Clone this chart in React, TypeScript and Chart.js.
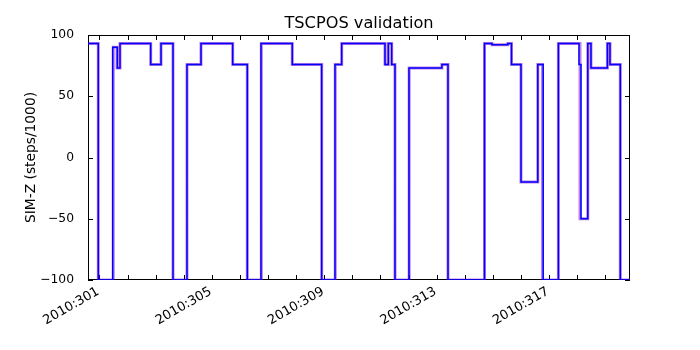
import React, { useEffect, useRef } from 'react';
import { Chart, registerables } from 'chart.js';

Chart.register(...registerables);

const X_MIN = 300.591;
const X_MAX = 319.879;

// Blue series (telemetry): transition times (day of year 2010) and values held after each time
const blueTimes = [
  300.591, 300.957, 301.470, 301.633, 301.730, 302.822, 303.189, 303.616, 304.114, 304.612,
  305.740, 306.260, 306.747, 307.861, 308.907, 309.381, 309.619, 311.160, 311.278, 311.399,
  311.516, 312.014, 313.185, 313.402, 314.701, 314.968, 315.530, 315.662, 316.000, 316.598,
  316.790, 317.331, 318.064, 318.135, 318.377, 318.491, 319.075, 319.167, 319.534, 319.879,
];
const blueValues = [
  93, -100, 90, 73, 93, 76, 93, -100, 76, 93,
  76, -100, 93, 76, -100, 76, 93, 76, 93, 76,
  -100, 73, 76, -100, 93, 92, 93, 76, -20, 76,
  -100, 93, 76, -50, 93, 73, 93, 76, -100, -100,
];

// Violet series (model)
const violetTimes = [
  300.591, 300.957, 301.490, 301.625, 301.730, 302.822, 303.189, 303.616, 304.114, 304.612,
  305.740, 306.260, 306.760, 307.861, 308.907, 309.390, 309.619, 311.160, 311.278, 311.399,
  311.516, 312.020, 313.185, 313.402, 314.701, 314.968, 315.530, 315.662, 316.000, 316.598,
  316.765, 317.331, 318.100, 318.377, 318.491, 319.075, 319.167, 319.534, 319.879,
];
const violetValues = [
  93, -100, 90, 73, 93, 76, 93, -100, 76, 93,
  76, -100, 93, 76, -100, 76, 93, 76, 93, 76,
  -100, 73, 76, -100, 93, 92, 93, 76, -20, 76,
  -100, 93, -50, 93, 73, 93, 76, -100, -100,
];

const xTickDays = [301, 305, 309, 313, 317];
const yTickValues = [-100, -50, 0, 50, 100];
const titleText = 'TSCPOS validation';
const yLabelText = 'SIM-Z (steps/1000)';
const yearPrefix = '2010:';

const FONT = '"DejaVu Sans", sans-serif';

const framePlugin = {
  id: 'framePlugin',
  beforeDatasetsDraw(chart: any) {
    const { ctx, chartArea: ca } = chart;
    const xs = chart.scales.x;
    const ys = chart.scales.y;
    ctx.save();
    ctx.strokeStyle = '#000';
    ctx.lineWidth = 1;
    ctx.strokeRect(ca.left + 0.5, ca.top + 0.5, ca.right - ca.left - 1, ca.bottom - ca.top - 1);
    ctx.beginPath();
    for (const v of yTickValues) {
      const y = Math.round(ys.getPixelForValue(v)) + 0.5;
      ctx.moveTo(ca.left, y);
      ctx.lineTo(ca.left + 5, y);
      ctx.moveTo(ca.right, y);
      ctx.lineTo(ca.right - 5, y);
    }
    for (let d = Math.ceil(X_MIN); d <= X_MAX; d++) {
      const x = Math.round(xs.getPixelForValue(d)) + 0.5;
      ctx.moveTo(x, ca.bottom);
      ctx.lineTo(x, ca.bottom - 5);
      ctx.moveTo(x, ca.top);
      ctx.lineTo(x, ca.top + 5);
    }
    ctx.stroke();
    ctx.restore();
  },
  afterDraw(chart: any) {
    const { ctx, chartArea: ca } = chart;
    const xs = chart.scales.x;
    ctx.save();
    ctx.fillStyle = '#000';
    // x tick labels (rotated 30 degrees, right end at tick)
    ctx.font = `13px ${FONT}`;
    ctx.textAlign = 'right';
    ctx.textBaseline = 'alphabetic';
    for (const d of xTickDays) {
      const x = xs.getPixelForValue(d);
      ctx.save();
      ctx.translate(x + 0.5, ca.bottom + 13.5);
      ctx.rotate(-Math.PI / 6);
      ctx.fillText(yearPrefix + String(d), 0, 0);
      ctx.restore();
    }
    // title
    ctx.font = `16.2px ${FONT}`;
    ctx.textAlign = 'center';
    ctx.textBaseline = 'alphabetic';
    ctx.fillText(titleText, (ca.left + ca.right) / 2, 28.3);
    // y label
    ctx.font = `13.8px ${FONT}`;
    ctx.translate(35, (ca.top + ca.bottom) / 2);
    ctx.rotate(-Math.PI / 2);
    ctx.textAlign = 'center';
    ctx.textBaseline = 'alphabetic';
    ctx.fillText(yLabelText, 0, 0);
    ctx.restore();
  },
};

function toPoints(times: number[], values: number[]) {
  return times.map((t, i) => ({ x: t, y: values[i] }));
}

export default function App() {
  const ref = useRef<HTMLCanvasElement | null>(null);
  useEffect(() => {
    if (!ref.current) return;
    const chart = new Chart(ref.current, {
      type: 'line',
      data: {
        datasets: [
          {
            label: 'telemetry',
            data: toPoints(blueTimes, blueValues),
            borderColor: '#0000ff',
            borderWidth: 1.5,
            stepped: 'before',
            pointRadius: 0,
            fill: false,
            clip: { left: 0, right: 0, top: 2, bottom: 0 },
          },
          {
            label: 'model',
            data: toPoints(violetTimes, violetValues),
            borderColor: 'rgba(128, 0, 200, 0.5)',
            borderWidth: 3,
            stepped: 'before',
            pointRadius: 0,
            fill: false,
            clip: { left: 0, right: 0, top: 2, bottom: 0 },
          },
        ],
      },
      options: {
        responsive: false,
        animation: false,
        devicePixelRatio: 1,
        layout: { padding: { top: 35, right: 70, left: 0, bottom: 0 } },
        plugins: {
          legend: { display: false },
          title: { display: false },
          tooltip: { enabled: false },
        },
        scales: {
          x: {
            type: 'linear',
            min: X_MIN,
            max: X_MAX,
            grid: { display: false },
            border: { display: false },
            afterBuildTicks: (scale: any) => {
              scale.ticks = xTickDays.map((v) => ({ value: v }));
            },
            afterFit: (scale: any) => {
              scale.height = 70;
            },
            ticks: { display: false },
          },
          y: {
            type: 'linear',
            min: -100,
            max: 100,
            grid: { display: false },
            border: { display: false },
            afterBuildTicks: (scale: any) => {
              scale.ticks = yTickValues.map((v) => ({ value: v }));
            },
            afterFit: (scale: any) => {
              scale.width = 88;
            },
            ticks: {
              padding: 6,
              color: '#000',
              font: { family: FONT, size: 12.3 },
              callback: (v: any) => String(v).replace('-', '\u2212'),
            },
          },
        },
      },
      plugins: [framePlugin],
    });
    return () => chart.destroy();
  }, []);
  return (
    <div style={{ position: 'fixed', left: 0, top: 0, width: 700, height: 350, background: '#fff' }}>
      <canvas ref={ref} width={700} height={350} style={{ width: 700, height: 350 }} />
    </div>
  );
}
